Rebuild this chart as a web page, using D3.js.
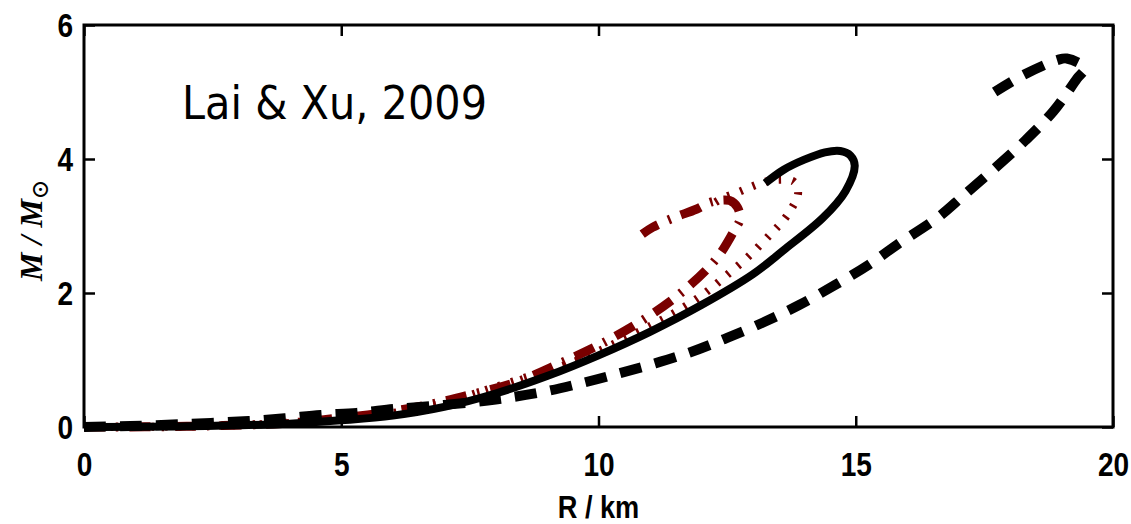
<!DOCTYPE html>
<html>
<head>
<meta charset="utf-8">
<script src="https://cdn.jsdelivr.net/npm/d3@7"></script>
<style>
  body { margin: 0; background: #fff; }
  svg { display: block; }
</style>
</head>
<body>
<div id="chart"></div>
<script>
// axis ticks
const xTicks = [0, 5, 10, 15, 20];
const yTicks = [0, 2, 4, 6];

// solid black curve [R km, M/Msun]
const solidR = [0, 2, 4, 5, 6, 7, 8, 9, 10, 11, 12, 13, 13.6, 14.36, 14.8, 14.98, 14.9, 14.7, 14.4, 14.0, 13.6, 13.24];
const solidM = [0, 0.01, 0.05, 0.1, 0.17, 0.3, 0.5, 0.76, 1.07, 1.42, 1.82, 2.28, 2.64, 3.12, 3.52, 3.9, 4.05, 4.12, 4.1, 3.99, 3.84, 3.64];

// black dashed curve
const dashR = [0, 0.9, 2, 3.2, 3.9, 4.6, 5.3, 6.05, 7, 8, 8.9, 9.7, 10.4, 11.1, 11.8, 12.5, 13.2, 13.9, 14.6, 15.25, 15.8, 16.6, 17.1, 17.7, 18.3, 18.85, 19.3, 19.45, 19.1, 18.93, 18.25, 17.7];
const dashM = [0, 0.015, 0.045, 0.09, 0.13, 0.18, 0.21, 0.27, 0.33, 0.41, 0.52, 0.66, 0.8, 0.95, 1.12, 1.33, 1.56, 1.82, 2.12, 2.42, 2.72, 3.13, 3.46, 3.86, 4.28, 4.72, 5.2, 5.36, 5.5, 5.48, 5.25, 5.0];

// red dash-dot curve
const dashDotR = [0, 2, 4, 4.9, 5.7, 6.67, 7.5, 8.4, 9.25, 10.05, 10.87, 11.6, 12.3, 12.65, 12.75, 12.7, 12.55, 12.2, 11.9, 11.45, 11.05, 10.85];
const dashDotM = [0, 0.01, 0.06, 0.13, 0.2, 0.33, 0.48, 0.67, 0.95, 1.24, 1.6, 2.0, 2.52, 2.95, 3.1, 3.28, 3.38, 3.36, 3.25, 3.12, 2.98, 2.88];

// red dotted curve
const dotR = [0, 2, 4, 5, 6, 7, 8, 9, 9.58, 10.3, 11.06, 11.6, 12.07, 12.5, 12.95, 13.37, 13.58, 13.76, 13.88, 13.8, 13.5, 13.24, 12.95, 12.7, 12.42, 12.2];
const dotM = [0, 0.01, 0.06, 0.12, 0.21, 0.36, 0.6, 0.84, 0.99, 1.24, 1.53, 1.76, 2.0, 2.27, 2.57, 2.9, 3.07, 3.27, 3.49, 3.66, 3.69, 3.66, 3.58, 3.5, 3.42, 3.32];

const width = 1131, height = 524;
const margin = {top: 25, right: 18, bottom: 97, left: 84};

const svg = d3.select("#chart").append("svg")
  .attr("width", width)
  .attr("height", height);

const x = d3.scaleLinear().domain([0, 20]).range([margin.left, width - margin.right]);
const y = d3.scaleLinear().domain([0, 6]).range([height - margin.bottom, margin.top]);

const tickFont = "'Liberation Sans Narrow', 'Arial Narrow', 'Liberation Sans', sans-serif";
const squeeze = 0.85; // no narrow face installed, so squeeze the bold sans

// curves
const zip = (rs, ms) => rs.map((r, i) => [r, ms[i]]);
const line = d3.line()
  .x(d => x(d[0]))
  .y(d => y(d[1]))
  .curve(d3.curveCatmullRom.alpha(0.5));

const plot = svg.append("g");

plot.append("path")
  .attr("d", line(zip(dashDotR, dashDotM)))
  .attr("fill", "none")
  .attr("stroke", "#7a0000")
  .attr("stroke-width", 9)
  .attr("stroke-dasharray", "21 11 2.5 11");

plot.append("path")
  .attr("d", line(zip(dotR, dotM)))
  .attr("fill", "none")
  .attr("stroke", "#7a0000")
  .attr("stroke-width", 8)
  .attr("stroke-dasharray", "2.5 11");

plot.append("path")
  .attr("d", line(zip(solidR, solidM)))
  .attr("fill", "none")
  .attr("stroke", "#000")
  .attr("stroke-width", 8);

plot.append("path")
  .attr("d", line(zip(dashR, dashM)))
  .attr("fill", "none")
  .attr("stroke", "#000")
  .attr("stroke-width", 10)
  .attr("stroke-dasharray", "22 14");

// axes, ticks point inwards
const inner = -11;
const gx = svg.append("g")
  .attr("transform", `translate(0,${y(0)})`)
  .call(d3.axisBottom(x).tickValues(xTicks).tickFormat(d3.format("d"))
    .tickSizeInner(inner).tickSizeOuter(0).tickPadding(26));
const gy = svg.append("g")
  .attr("transform", `translate(${x(0)},0)`)
  .call(d3.axisLeft(y).tickValues(yTicks).tickFormat(d3.format("d"))
    .tickSizeInner(inner).tickSizeOuter(0).tickPadding(11));
const gt = svg.append("g")
  .attr("transform", `translate(0,${y(6)})`)
  .call(d3.axisTop(x).tickValues(xTicks).tickSizeInner(inner).tickSizeOuter(0).tickFormat(""));
const gr = svg.append("g")
  .attr("transform", `translate(${x(20)},0)`)
  .call(d3.axisRight(y).tickValues(yTicks).tickSizeInner(inner).tickSizeOuter(0).tickFormat(""));

[gx, gy, gt, gr].forEach(g => {
  g.select(".domain").remove();
  g.selectAll(".tick line").attr("stroke", "#000").attr("stroke-width", 2.5);
  g.selectAll(".tick text")
    .attr("fill", "#000")
    .attr("transform", `scale(${squeeze},1)`)
    .style("font-family", tickFont)
    .style("font-weight", "bold")
    .style("font-size", "33px");
});
gy.selectAll(".tick text").attr("dy", "0.36em").attr("x", -11 / squeeze);

// frame
svg.append("rect")
  .attr("x", x(0))
  .attr("y", y(6))
  .attr("width", x(20) - x(0))
  .attr("height", y(0) - y(6))
  .attr("fill", "none")
  .attr("stroke", "#000")
  .attr("stroke-width", 3);

// axis labels
svg.append("text")
  .attr("transform", `translate(${x(10)},518) scale(${squeeze},1)`)
  .attr("text-anchor", "middle")
  .style("font-family", tickFont)
  .style("font-weight", "bold")
  .style("font-size", "32px")
  .text("R / km");

const ylab = svg.append("text")
  .attr("transform", "translate(42,230) rotate(-90)")
  .attr("text-anchor", "middle")
  .style("font-family", "'Liberation Serif', 'DejaVu Serif', serif")
  .style("font-style", "italic")
  .style("font-weight", "bold")
  .style("font-size", "32px");
ylab.append("tspan").text("M / M");
ylab.append("tspan")
  .attr("dy", 6)
  .style("font-style", "normal")
  .style("font-weight", "normal")
  .style("font-size", "24px")
  .text("⊙");

// annotation
svg.append("text")
  .attr("x", 182)
  .attr("y", 119)
  .attr("textLength", 305)
  .attr("lengthAdjust", "spacingAndGlyphs")
  .style("font-family", "'DejaVu Sans', sans-serif")
  .style("font-size", "46px")
  .text("Lai & Xu, 2009");
</script>
</body>
</html>
